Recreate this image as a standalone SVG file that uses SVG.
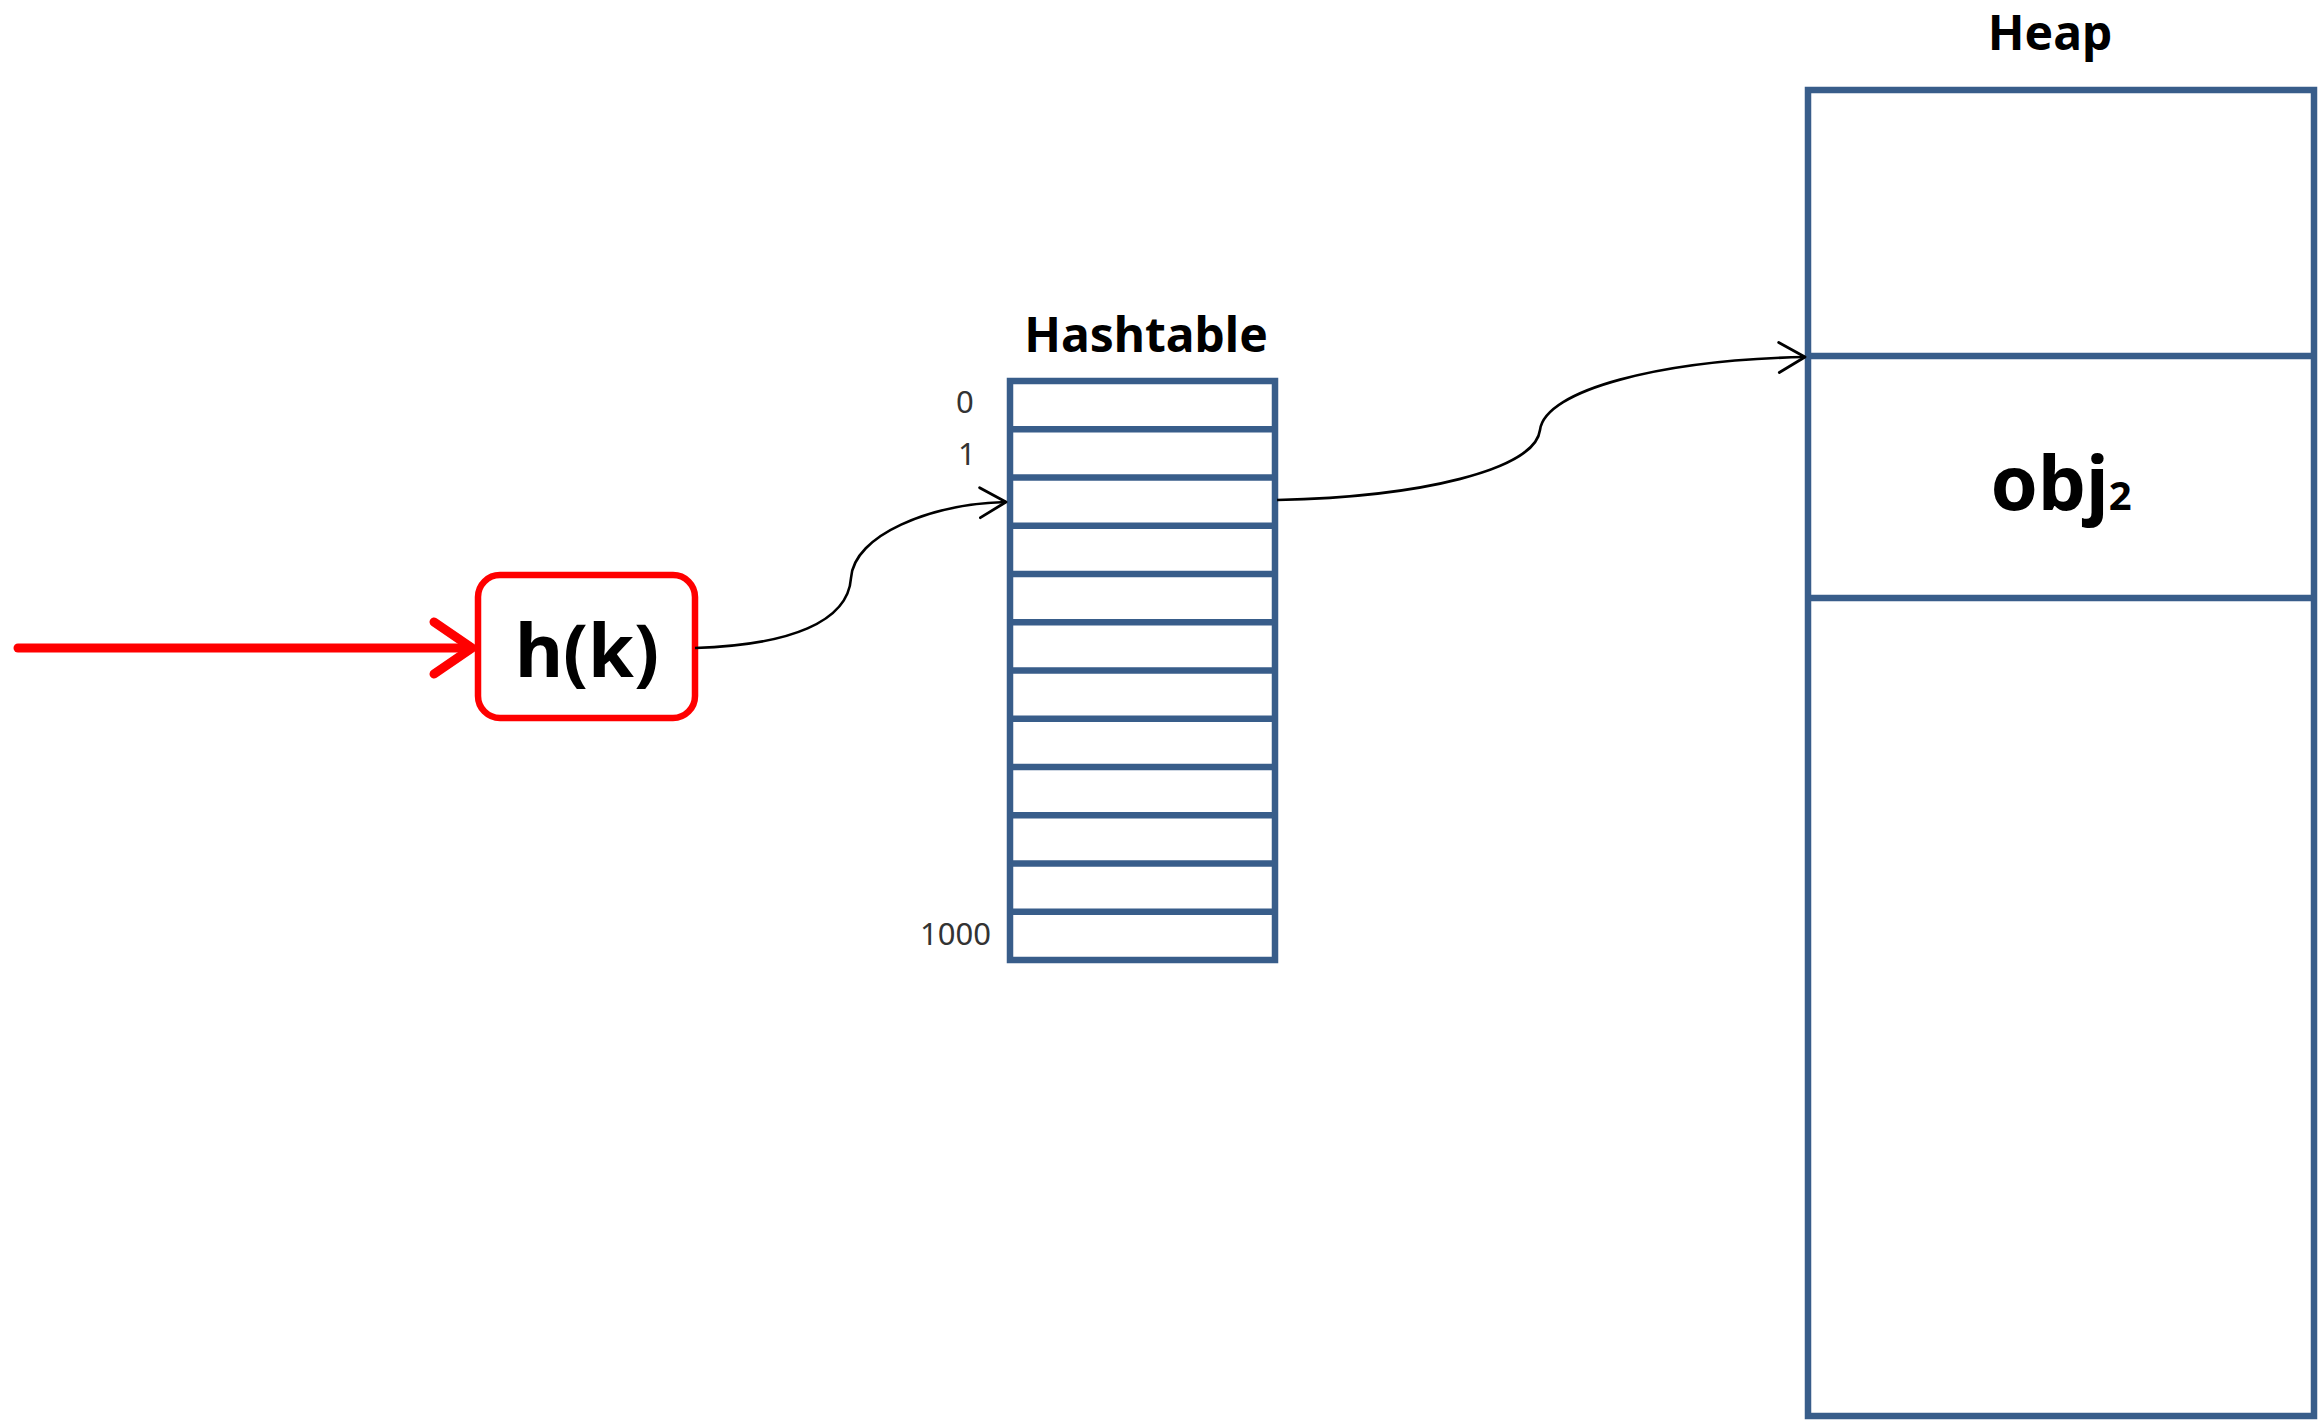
<svg xmlns="http://www.w3.org/2000/svg" width="2322" height="1420" viewBox="0 0 2322 1420">
  <style>
    .box { fill: #ffffff; stroke: #385D8A; stroke-width: 6.5; }
    .div { stroke: #385D8A; stroke-width: 6.5; }
    .title { font-family: "Noto Sans", "Open Sans", sans-serif; font-weight: bold; font-size: 48px; fill: #000; text-anchor: middle; }
    .idx { font-family: "Noto Sans", "Open Sans", sans-serif; font-size: 31px; fill: #333; }
    .conn { fill: none; stroke: #000; stroke-width: 2.6; }
  </style>
  <defs>
    <marker id="open" viewBox="0 0 30 34" refX="28" refY="17" markerWidth="30" markerHeight="34" markerUnits="userSpaceOnUse" orient="auto">
      <path d="M2,2 L28,17 L2,32" fill="none" stroke="#000" stroke-width="2.8" stroke-linecap="round" stroke-linejoin="round"/>
    </marker>
  </defs>
  <rect width="2322" height="1420" fill="#ffffff"/>

  <g id="input-arrow">
    <line x1="18" y1="648" x2="470" y2="648" stroke="#FF0000" stroke-width="9" stroke-linecap="round"/>
    <path d="M434,622 L472,648 L434,674" fill="none" stroke="#FF0000" stroke-width="9" stroke-linecap="round" stroke-linejoin="round"/>
  </g>

  <g id="hash-function">
    <rect x="478" y="575" width="217" height="143" rx="22" ry="22" fill="#ffffff" stroke="#FF0000" stroke-width="6.5"/>
    <text x="587" y="677" font-family="Noto Sans, Open Sans, sans-serif" font-weight="bold" font-size="74" text-anchor="middle" fill="#000">h(k)</text>
  </g>

  <g id="hashtable">
    <text class="title" x="1146" y="352">Hashtable</text>
    <rect class="box" x="1010" y="381" width="265" height="579"/>
    <line class="div" x1="1010" y1="429.25" x2="1275" y2="429.25"/>
    <line class="div" x1="1010" y1="477.5" x2="1275" y2="477.5"/>
    <line class="div" x1="1010" y1="525.75" x2="1275" y2="525.75"/>
    <line class="div" x1="1010" y1="574" x2="1275" y2="574"/>
    <line class="div" x1="1010" y1="622.25" x2="1275" y2="622.25"/>
    <line class="div" x1="1010" y1="670.5" x2="1275" y2="670.5"/>
    <line class="div" x1="1010" y1="718.75" x2="1275" y2="718.75"/>
    <line class="div" x1="1010" y1="767" x2="1275" y2="767"/>
    <line class="div" x1="1010" y1="815.25" x2="1275" y2="815.25"/>
    <line class="div" x1="1010" y1="863.5" x2="1275" y2="863.5"/>
    <line class="div" x1="1010" y1="911.75" x2="1275" y2="911.75"/>
    <text class="idx" x="956" y="413">0</text>
    <text class="idx" x="958" y="465">1</text>
    <text class="idx" x="920" y="945">1000</text>
  </g>

  <g id="heap">
    <text class="title" x="2050" y="50">Heap</text>
    <rect class="box" x="1808" y="90" width="506" height="1326"/>
    <line class="div" x1="1808" y1="356" x2="2314" y2="356"/>
    <line class="div" x1="1808" y1="598" x2="2314" y2="598"/>
    <text x="2061" y="510" font-family="Noto Sans, Open Sans, sans-serif" font-weight="bold" font-size="76" text-anchor="middle" fill="#000">obj<tspan font-size="40">2</tspan></text>
  </g>

  <g id="connectors">
    <path class="conn" d="M695,648 C790,645 848,622 851,578 C854,535 930,504 1006,502" marker-end="url(#open)"/>
    <path class="conn" d="M1277,500 C1420,497 1535,470 1540,430 C1545,390 1660,360 1805,357" marker-end="url(#open)"/>
  </g>
</svg>
